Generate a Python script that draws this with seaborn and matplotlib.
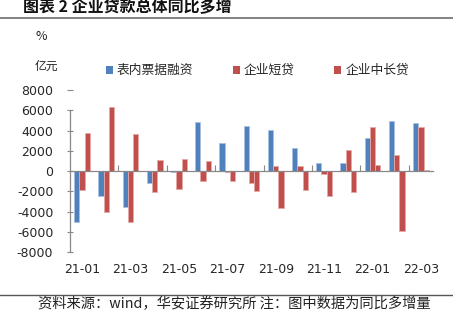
import matplotlib
matplotlib.use("Agg")
import matplotlib.pyplot as plt
import seaborn as sns
import pandas as pd
import numpy as np
from matplotlib.patches import Patch
from matplotlib.lines import Line2D

months = ["21-01", "21-02", "21-03", "21-04", "21-05", "21-06", "21-07", "21-08",
          "21-09", "21-10", "21-11", "21-12", "22-01", "22-02", "22-03"]
series_names = ["表内票据融资", "企业短贷", "企业中长贷"]
bill_financing = [-5000, -2470, -3550, -1180, -50, 4870, 2800, 4500,
                  4010, 2300, 820, 760, 3220, 4930, 4700]
short_loans = [-1900, -4010, -5000, -2040, -1800, -990, -130, -1150,
               530, 530, -300, 2040, 4340, 1640, 4340]
mid_long_loans = [3780, 6280, 3650, 1050, 1220, 1020, -990, -2000,
                  -3680, -1870, -2430, -2070, 625, -5920, 160]
tick_labels = ["21-01", "21-03", "21-05", "21-07", "21-09", "21-11", "22-01", "22-03"]
y_ticks = [-8000, -6000, -4000, -2000, 0, 2000, 4000, 6000, 8000]

colors = ["#4F81BD", "#C0504D", "#C0504D"]
edge_colors = ["#A9C1E0", "#E6A9A7", "#E6A9A7"]

df = pd.DataFrame({
    "month": months * 3,
    "series": [series_names[0]] * 15 + [series_names[1]] * 15 + [series_names[2]] * 15,
    "value": bill_financing + short_loans + mid_long_loans,
})

sns.set_theme(style="white")
plt.rcParams["font.family"] = ["Noto Sans CJK SC", "DejaVu Sans"]

fig = plt.figure(figsize=(4.53, 3.26), dpi=100)
W, H = 453, 326
ax = fig.add_axes([70 / W, 1 - 252.3 / H, (433 - 70) / W, (252.3 - 90) / H])

sns.barplot(data=df, x="month", y="value", hue="series", hue_order=series_names,
            order=months, palette=colors, width=0.66, gap=0, legend=False,
            saturation=1, ax=ax, errorbar=None)

for i, container in enumerate(ax.containers):
    for p in container:
        p.set_edgecolor(edge_colors[i])
        p.set_linewidth(0.6)

ax.set_xlim(-0.5, 14.5)
ax.set_ylim(-8000, 8000)
ax.set_xlabel("")
ax.set_ylabel("")

ax.set_yticks(y_ticks)
ax.set_yticklabels([str(v) for v in y_ticks], fontsize=9, family=["Verdana", "DejaVu Sans"])
ax.tick_params(axis="y", direction="inout", length=4, width=0.8, color="#888888", pad=10, left=True)

# zero axis line with boundary ticks
for s in ["top", "right"]:
    ax.spines[s].set_visible(False)
ax.spines["bottom"].set_position(("data", 0))
ax.spines["bottom"].set_color("#888888")
ax.spines["bottom"].set_linewidth(0.9)
ax.spines["left"].set_color("#888888")
ax.spines["left"].set_linewidth(0.9)
ax.spines["left"].set_bounds(-8000, 6000)

ax.set_xticks([])
ax.set_xticks(np.arange(1.5, 14, 2), minor=True)
ax.tick_params(axis="x", which="minor", direction="in", length=4, width=0.8,
               color="#888888", bottom=True, labelbottom=False)

sec = ax.secondary_xaxis(0)
sec.set_xticks(np.arange(0, 15, 2))
sec.set_xticklabels(tick_labels, fontsize=9, family=["Verdana", "DejaVu Sans"])
sec.tick_params(axis="x", length=0, pad=8)
sec.spines["bottom"].set_visible(False)

# legend
handles = [Patch(facecolor=c, edgecolor="none") for c in colors]
fig.legend(handles, series_names, loc="center left", bbox_to_anchor=(106 / W, 1 - 70.7 / H),
           ncol=3, frameon=False, fontsize=9.2, handlelength=0.55, handleheight=0.55,
           handletextpad=0.3, columnspacing=3.1, borderaxespad=0, borderpad=0)

# texts
fig.text(23 / W, 1 - 7 / H, "图表 2 企业贷款总体同比多增", fontsize=11.5, fontweight="bold",
         va="center", ha="left", color="#111111")
fig.add_artist(Line2D([0, 1], [1 - 17.5 / H, 1 - 17.5 / H], color="#777777", lw=1.3))
fig.text(36 / W, 1 - 37 / H, "%", fontsize=9, va="center", ha="left", color="#222222")
fig.text(35 / W, 1 - 66.7 / H, "亿元", fontsize=8.5, va="center", ha="left", color="#222222")
fig.add_artist(Line2D([0, 1], [1 - 294.5 / H, 1 - 294.5 / H], color="#555555", lw=1.0))
fig.text(38 / W, 1 - 304 / H, "资料来源：wind，华安证券研究所 注：图中数据为同比多增量",
         fontsize=10.3, va="center", ha="left", color="#222222")

fig.savefig("out.png", dpi=100)
